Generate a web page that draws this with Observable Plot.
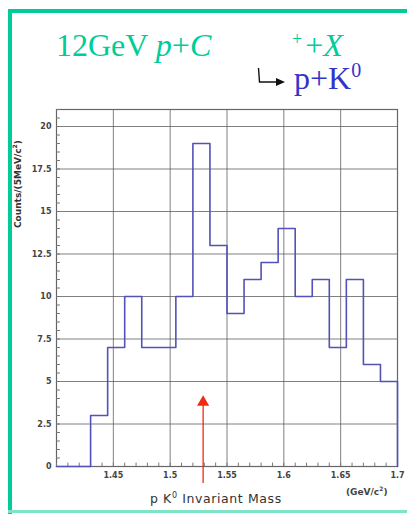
<!DOCTYPE html>
<html>
<head>
<meta charset="utf-8">
<script src="https://cdn.jsdelivr.net/npm/d3@7"></script>
<script src="https://cdn.jsdelivr.net/npm/@observablehq/plot@0.6"></script>
<style>
  html, body { margin: 0; padding: 0; background: #fff; }
  #wrap { position: relative; width: 407px; height: 514px; overflow: hidden; background: #fff; }
  #wrap svg.plot { position: absolute; left: 0; top: 0; }
  .abs { position: absolute; white-space: nowrap; line-height: 1; }
</style>
</head>
<body>
<div id="wrap"></div>
<script>
// ---- data ----
const binEdges = [1.400, 1.430, 1.445, 1.460, 1.475, 1.490, 1.505, 1.520, 1.535, 1.550,
                  1.565, 1.580, 1.595, 1.610, 1.625, 1.640, 1.655, 1.670, 1.685, 1.700];
const counts   = [0, 3, 7, 10, 7, 7, 10, 19, 13, 9, 11, 12, 14, 10, 11, 7, 11, 6, 5];
const xTicks = [1.45, 1.5, 1.55, 1.6, 1.65, 1.7];
const xTickLabels = ["1.45", "1.5", "1.55", "1.6", "1.65", "1.7"];
const yTicks = [0, 2.5, 5, 7.5, 10, 12.5, 15, 17.5, 20];
const yTickLabels = ["0", "2.5", "5", "7.5", "10", "12.5", "15", "17.5", "20"];
const markerMass = [1.529];

const teal = "#00cc99";
const blue = "#3434c8";

// step points: each bin start with its count, then final edge back to 0
const pts = counts.map((c, i) => ({x: binEdges[i], y: c}));
pts.push({x: binEdges[binEdges.length - 1], y: 0});

const minorY = d3.range(0, 21.001, 0.5);
const minorX = d3.range(1.40, 1.7001, 0.01);

const chart = Plot.plot({
  width: 407, height: 514,
  marginLeft: 56, marginRight: 10, marginTop: 109, marginBottom: 48,
  x: {domain: [1.4, 1.7]},
  y: {domain: [0, 21]},
  style: {background: "transparent", fontFamily: "DejaVu Sans", fontSize: "8px", fontWeight: "bold", color: "#444"},
  marks: [
    Plot.gridX(xTicks.slice(0, -1), {stroke: "#555", strokeOpacity: 0.75}),
    Plot.gridY(yTicks.slice(1), {stroke: "#555", strokeOpacity: 0.75}),
    Plot.frame({stroke: "#666", strokeWidth: 1.2}),
    Plot.ruleY(minorY, {y: (d) => d, x1: 1.4, x2: 1.4035, stroke: "#777"}),
    Plot.ruleX(minorX, {x: (d) => d, y1: 0, y2: 0.2, stroke: "#777"}),
    Plot.axisY({ticks: yTicks, tickSize: 0, tickPadding: 5, tickFormat: (d) => yTickLabels[yTicks.indexOf(d)], label: null}),
    Plot.axisX({ticks: xTicks, tickSize: 0, tickPadding: 6, tickFormat: (d) => xTickLabels[xTicks.indexOf(d)], label: null}),
    Plot.line(pts, {x: "x", y: "y", curve: "step-after", stroke: "#5252b8", strokeWidth: 1.6}),
    Plot.ruleX(markerMass, {x: (d) => d, y1: -1.0, y2: 3.9, stroke: "#f02a10", strokeWidth: 1.3, clip: false}),
    Plot.dot(markerMass, {x: (d) => d, y: 3.78, symbol: "triangle", r: 4.5, fill: "#f02a10", stroke: "none", clip: false})
  ]
});
chart.classList.add("plot");

const wrap = document.getElementById("wrap");
wrap.appendChild(chart);

function add(html, css) {
  const d = document.createElement("div");
  d.className = "abs";
  d.innerHTML = html;
  Object.assign(d.style, css);
  wrap.appendChild(d);
  return d;
}

// teal border lines
add("", {left: "8px", top: "9px", width: "4px", height: "505px", background: teal});
add("", {left: "8px", top: "9px", width: "399px", height: "4px", background: teal});
add("", {left: "8px", top: "510px", width: "399px", height: "3px", background: "#80e3c9"});

// title line 1
add('12GeV <i>p</i>+<i>C</i>', {left: "56px", top: "29px", fontSize: "32px", color: teal, fontFamily: '"Liberation Serif", serif'});
add('<span style="font-size:18px;position:relative;top:-11px;margin-right:3px">+</span>+<i>X</i>', {left: "292px", top: "29px", fontSize: "32px", color: teal, fontFamily: '"Liberation Serif", serif'});
// title line 2
add('p+K<span style="font-size:20px;position:relative;top:-12px">0</span>', {left: "294px", top: "62px", fontSize: "32px", color: blue, fontFamily: '"Liberation Serif", serif'});
// hook arrow
const ns = "http://www.w3.org/2000/svg";
const arr = document.createElementNS(ns, "svg");
arr.setAttribute("width", "40"); arr.setAttribute("height", "30");
arr.style.position = "absolute"; arr.style.left = "255px"; arr.style.top = "62px";
arr.innerHTML = '<path d="M3.5,6 L4.5,20 L22,20" fill="none" stroke="#111" stroke-width="1.4"/><path d="M30,20 L21,16 L21,24 Z" fill="#111"/>';
wrap.appendChild(arr);

// axis labels
add('Counts/(5MeV/c<sup style="font-size:6px">2</sup>)', {left: "17px", top: "108px", fontSize: "9px", fontWeight: "bold", color: "#333", fontFamily: '"DejaVu Sans", sans-serif', transformOrigin: "0 0", transform: "rotate(-90deg) translate(-120px, -5px)"});
add('(GeV/c<sup style="font-size:6px">2</sup>)', {left: "346px", top: "486px", fontSize: "9px", fontWeight: "bold", color: "#444", fontFamily: '"DejaVu Sans", sans-serif'});
add('p K<sup style="font-size:8px">0</sup> Invariant Mass', {left: "150px", top: "492px", fontSize: "12.5px", letterSpacing: "0.6px", color: "#333", fontFamily: '"DejaVu Sans", sans-serif'});
</script>
</body>
</html>
